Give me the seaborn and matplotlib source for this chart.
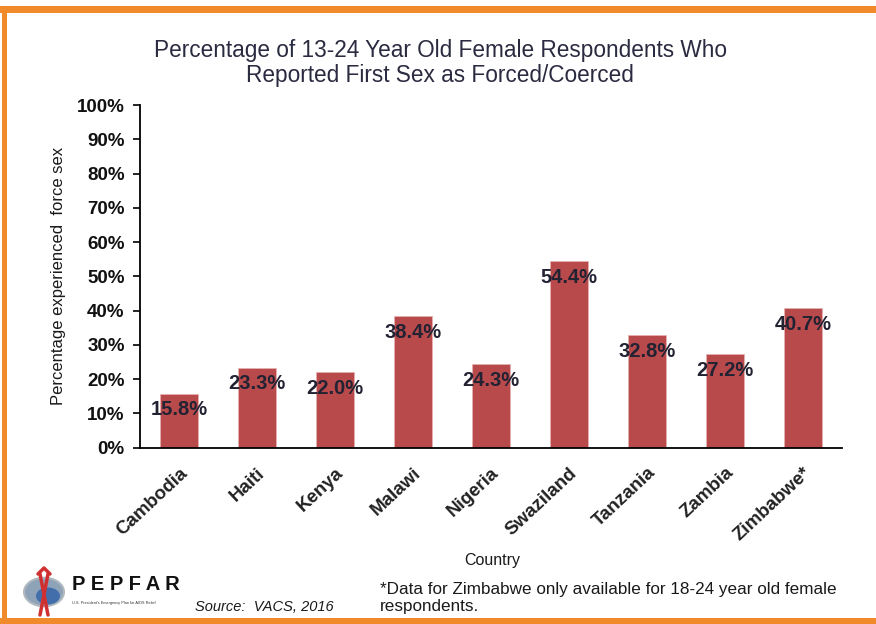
import matplotlib
matplotlib.use("Agg")
import matplotlib.pyplot as plt
import seaborn as sns
import pandas as pd
from matplotlib.patches import Rectangle, Circle
from matplotlib.lines import Line2D

countries = ["Cambodia", "Haiti", "Kenya", "Malawi", "Nigeria",
             "Swaziland", "Tanzania", "Zambia", "Zimbabwe*"]
values = [15.8, 23.3, 22.0, 38.4, 24.3, 54.4, 32.8, 27.2, 40.7]
y_ticks = [0, 10, 20, 30, 40, 50, 60, 70, 80, 90, 100]
y_tick_labels = [f"{t}%" for t in y_ticks]

title = "Percentage of 13-24 Year Old Female Respondents Who\nReported First Sex as Forced/Coerced"
y_label = "Percentage experienced  force sex"
x_label = "Country"
source = "Source:  VACS, 2016"
footnote = "*Data for Zimbabwe only available for 18-24 year old female\nrespondents."

sns.set_theme(style="white")
plt.rcParams["font.family"] = ["Liberation Sans", "DejaVu Sans"]

df = pd.DataFrame({"Country": countries, "Value": values})

W, H = 876, 624
fig = plt.figure(figsize=(W / 100, H / 100), dpi=100)
fig.patch.set_facecolor("white")

ax = fig.add_axes([140 / W, 1 - 447.7 / H, (842 - 140) / W, (447.7 - 105) / H])
sns.barplot(data=df, x="Country", y="Value", color="#B84A4C", saturation=1,
            width=0.48, edgecolor="#E8B0B0", linewidth=0.6, ax=ax)

ax.set_xlim(-0.5, len(countries) - 0.5)
ax.set_ylim(0, 100)
ax.set_yticks(y_ticks)
ax.set_yticklabels(y_tick_labels, fontsize=13.5, fontweight="bold", color="#111111")
ax.set_xticks(range(len(countries)))
ax.set_xticklabels(countries, rotation=43, ha="right", rotation_mode="anchor",
                   fontsize=13.5, fontweight="bold", color="#222222")
ax.set_xticks([i - 0.5 for i in range(len(countries) + 1)], minor=True)
ax.tick_params(axis="x", which="major", length=0, pad=12)
ax.tick_params(axis="x", which="minor", length=5, width=1.2, color="black", direction="out")
ax.tick_params(axis="y", which="major", length=5, width=1.2, color="black", direction="out", pad=6,
               left=True)
ax.set_xlabel("")
ax.set_ylabel(y_label, fontsize=12, color="#1a1a1a", labelpad=8)
for s in ["top", "right"]:
    ax.spines[s].set_visible(False)
for s in ["left", "bottom"]:
    ax.spines[s].set_visible(True)
    ax.spines[s].set_color("black")
    ax.spines[s].set_linewidth(1.3)

for i, v in enumerate(values):
    ax.annotate(f"{v:.1f}%", (i, v), xytext=(0, -16), textcoords="offset pixels",
                ha="center", va="center", fontsize=14.5, fontweight="bold", color="#222233")

fig.text(440 / W, 1 - 63 / H, title, ha="center", va="center", fontsize=16.3,
         color="#2a2a40", linespacing=1.15)
fig.text(492 / W, 1 - 560 / H, x_label, ha="center", va="center", fontsize=11.5, color="#1a1a1a")
fig.text(195 / W, 1 - 607 / H, source, ha="left", va="center", fontsize=10.5,
         style="italic", color="#1a1a1a")
fig.text(380 / W, 1 - 598 / H, footnote, ha="left", va="center", fontsize=12.3,
         color="#1a1a1a", linespacing=1.15)

# PEPFAR logo (approximate)
fig.patches.append(Circle((44 / W, 1 - 592 / H), radius=20 / W, transform=fig.transFigure,
                          facecolor="#8FA3B8", edgecolor="#B0B8C0", linewidth=1.5))
fig.patches.append(Circle((48 / W, 1 - 596 / H), radius=12 / W, transform=fig.transFigure,
                          facecolor="#2F63A8", edgecolor="none", alpha=0.8))
fig.lines.append(Line2D([38 / W, 44 / W, 50 / W], [1 - 574 / H, 1 - 568 / H, 1 - 574 / H],
                        transform=fig.transFigure, color="#D03030", linewidth=2.5))
fig.lines.append(Line2D([40 / W, 48 / W], [1 - 574 / H, 1 - 615 / H],
                        transform=fig.transFigure, color="#D03030", linewidth=2.5))
fig.lines.append(Line2D([48 / W, 40 / W], [1 - 574 / H, 1 - 615 / H],
                        transform=fig.transFigure, color="#D03030", linewidth=2.5))
fig.text(72 / W, 1 - 585 / H, "P E P F A R", ha="left", va="center", fontsize=14.5,
         fontweight="bold", color="#111111")
fig.text(72 / W, 1 - 603 / H, "U.S. President's Emergency Plan for AIDS Relief", ha="left",
         va="center", fontsize=2.8, color="#333333")

# orange frame
orange = "#F08A2A"
fig.patches.append(Rectangle((0, 1 - 13 / H), 1, 7 / H, transform=fig.transFigure,
                             facecolor=orange, edgecolor="none"))
fig.patches.append(Rectangle((2 / W, 0), 5 / W, 1 - 6 / H, transform=fig.transFigure,
                             facecolor=orange, edgecolor="none"))
fig.patches.append(Rectangle((0, 0), 1, 6 / H, transform=fig.transFigure,
                             facecolor=orange, edgecolor="none"))

fig.savefig("out.png", dpi=100)
